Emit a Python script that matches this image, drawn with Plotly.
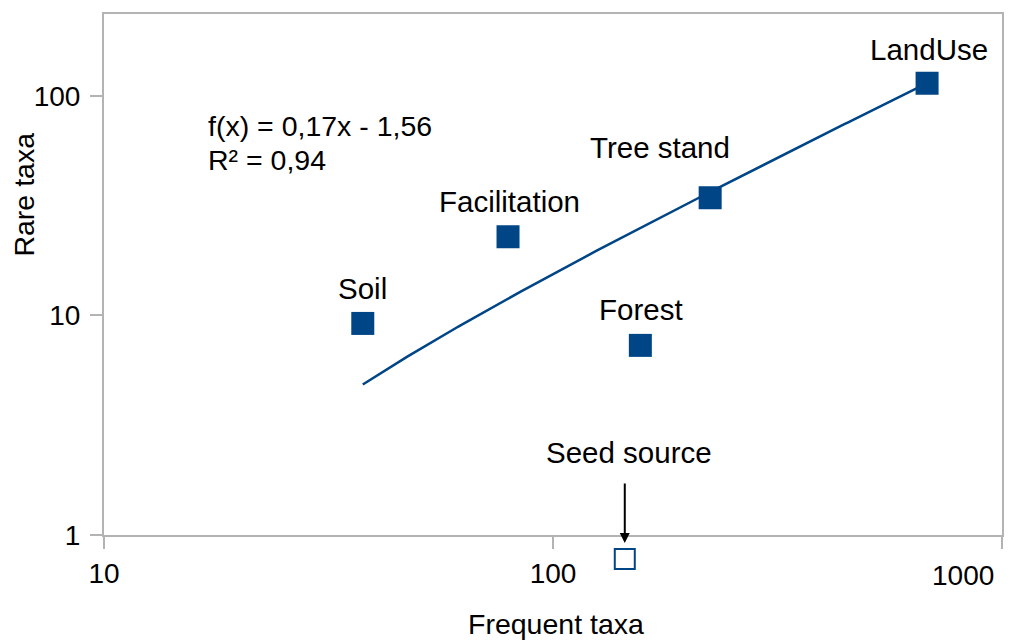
import numpy as np
import plotly.graph_objects as go

# ---- data ----
names = ["Soil", "Facilitation", "Forest", "Tree stand", "LandUse"]
frequent_taxa = [37.7, 79.4, 156.5, 223.9, 681.0]
rare_taxa = [9.2, 22.8, 7.31, 34.3, 114.0]

seed_name = "Seed source"
seed_frequent = [144.5]
seed_rare = [0.78]

# trend line shown in the chart: f(x) = 0,17x - 1,56 ; R² = 0,94
slope = 0.17
intercept = -1.56
r_squared = 0.94

x_tickvals = [10, 100, 1000]
x_ticktext = ["10", "100", "1000"]
y_tickvals = [1, 10, 100]
y_ticktext = ["1", "10", "100"]

x_title = "Frequent taxa"
y_title = "Rare taxa"

# ---- styles / layout ----
BLUE = "#004586"
GRAY = "#b3b3b3"
FONT = "Liberation Sans, Arial, sans-serif"
FS = 28

W, H = 1016, 642
L, R, T, B = 104, 12, 12, 40          # outer plot area (includes strip below x axis)
pw, ph = W - L - R, H - T - B
AXIS_BOTTOM_PX = 535                  # pixel row of the x axis line
PX_PER_DECADE_Y = 220.5
Y_TOP = (AXIS_BOTTOM_PX - T) / PX_PER_DECADE_Y
Y2_LOW = -(H - B - AXIS_BOTTOM_PX) / PX_PER_DECADE_Y
main_dom0 = (H - B - AXIS_BOTTOM_PX) / ph


def paper_x(px):
    return (px - L) / pw


def paper_y(py):
    return (H - B - py) / ph


# label offsets (pixels) relative to each marker
label_shift = {
    "Soil": (0, 35),
    "Facilitation": (1, 35),
    "Forest": (1, 36),
    "Tree stand": (-50, 50),
    "LandUse": (2, 34),
}

fig = go.Figure()

# trend line over the range of the plotted points
tx = np.logspace(np.log10(min(frequent_taxa)), np.log10(max(frequent_taxa)), 200)
ty = slope * tx + intercept
fig.add_trace(go.Scatter(x=tx, y=ty, mode="lines",
                         line=dict(color=BLUE, width=2.5),
                         hoverinfo="skip", showlegend=False))

fig.add_trace(go.Scatter(x=frequent_taxa, y=rare_taxa, mode="markers",
                         marker=dict(symbol="square", size=23, color=BLUE,
                                     line=dict(width=0)),
                         text=names, showlegend=False))

# seed source sits below the axis: draw it in a strip subplot under the main axes
fig.add_trace(go.Scatter(x=seed_frequent, y=seed_rare, mode="markers",
                         xaxis="x2", yaxis="y2",
                         marker=dict(symbol="square", size=20, color="white",
                                     line=dict(color=BLUE, width=2)),
                         text=[seed_name], cliponaxis=False, showlegend=False))

txt_font = dict(family=FONT, size=FS, color="black")
lab_font = dict(family=FONT, size=29.5, color="black")
mid_font = dict(family=FONT, size=28.5, color="black")
annotations = []
for n, fx, ry in zip(names, frequent_taxa, rare_taxa):
    dx, dy = label_shift[n]
    annotations.append(dict(x=np.log10(fx), y=np.log10(ry), xref="x", yref="y",
                            text=n, showarrow=False, xanchor="center",
                            yanchor="middle", xshift=dx, yshift=dy,
                            font=lab_font))

# seed source label + arrow
sx, sy = np.log10(seed_frequent[0]), np.log10(seed_rare[0])
annotations.append(dict(x=sx, y=sy, xref="x2", yref="y2", text=seed_name,
                        showarrow=False, xanchor="center", yanchor="middle",
                        xshift=4, yshift=106, font=lab_font))
annotations.append(dict(x=sx, y=sy, xref="x2", yref="y2", text="",
                        showarrow=True, ax=0, ay=-77, arrowhead=2,
                        arrowsize=1, arrowwidth=2, arrowcolor="black",
                        standoff=16))

# equation text
def comma(v):
    return f"{v:.2f}".replace(".", ",")


annotations.append(dict(x=paper_x(206), y=paper_y(124), xref="paper", yref="paper",
                        text="f(x) = " + comma(slope) + "x - " + comma(abs(intercept)),
                        showarrow=False, xanchor="left", yanchor="middle",
                        font=mid_font))
annotations.append(dict(x=paper_x(206), y=paper_y(158), xref="paper", yref="paper",
                        text="R² = " + comma(r_squared),
                        showarrow=False, xanchor="left", yanchor="middle",
                        font=mid_font))

# last x tick label (drawn left of its tick as in the reference)
annotations.append(dict(x=np.log10(x_tickvals[-1]), y=paper_y(575), xref="x",
                        yref="paper", text=x_ticktext[-1], showarrow=False,
                        xanchor="right", yanchor="middle", xshift=-6,
                        font=txt_font))

# axis titles
annotations.append(dict(x=paper_x(24), y=paper_y(193), xref="paper", yref="paper",
                        text=y_title, showarrow=False, textangle=-90,
                        xanchor="center", yanchor="middle", font=mid_font))
annotations.append(dict(x=paper_x(557), y=paper_y(624), xref="paper", yref="paper",
                        text=x_title, showarrow=False, xanchor="center",
                        yanchor="middle", font=mid_font))

axis_common = dict(type="log", showline=True, linecolor=GRAY, linewidth=2,
                   mirror=True, ticks="outside", ticklen=12, tickwidth=2,
                   tickcolor=GRAY, showgrid=False, zeroline=False,
                   tickfont=txt_font)

fig.update_layout(
    width=W, height=H, autosize=False,
    margin=dict(l=L, r=R, t=T, b=B),
    paper_bgcolor="white", plot_bgcolor="white",
    xaxis=dict(range=[1, 3], tickvals=x_tickvals, anchor="y",
               ticktext=x_ticktext[:-1] + [""], **axis_common),
    yaxis=dict(range=[0, Y_TOP], tickvals=y_tickvals, ticktext=y_ticktext,
               domain=[main_dom0, 1], anchor="x", ticklabelstandoff=4,
               **axis_common),
    xaxis2=dict(type="log", range=[1, 3], anchor="y2", visible=False),
    yaxis2=dict(type="log", range=[Y2_LOW, 0], domain=[0, main_dom0],
                anchor="x2", visible=False),
    annotations=annotations,
    font=dict(family=FONT),
    showlegend=False,
)

fig.write_html("out.html")
